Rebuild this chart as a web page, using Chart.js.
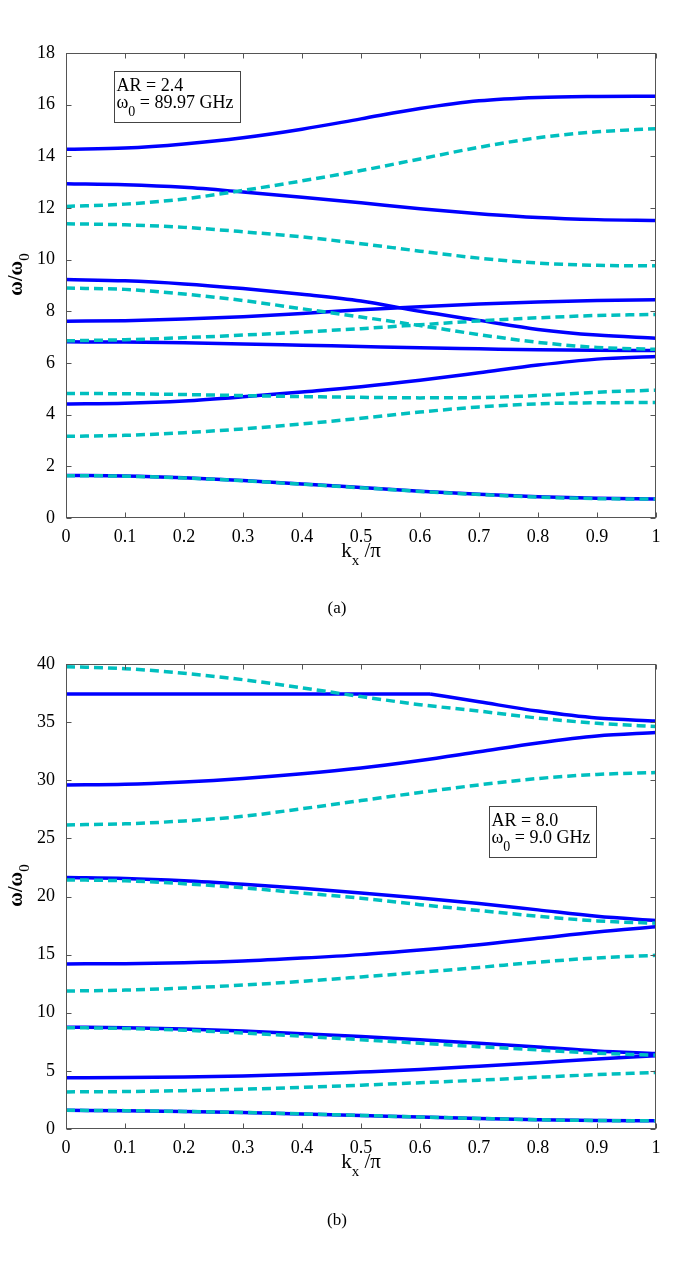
<!DOCTYPE html>
<html>
<head>
<meta charset="utf-8">
<script src="https://cdn.jsdelivr.net/npm/chart.js@4.4.0/dist/chart.umd.min.js"></script>
<style>
  body { margin: 0; background: #fff; width: 685px; height: 1266px; position: relative; overflow: hidden; }
  .fig { position: absolute; left: 0; width: 685px; height: 600px; }
  .cap { position: absolute; left: 297px; width: 80px; text-align: center; font: 17px 'Liberation Serif', serif; color: #000; }
</style>
</head>
<body>
<div class="fig" style="top:0"><canvas id="chart-a"></canvas></div>
<div class="fig" style="top:611px"><canvas id="chart-b"></canvas></div>
<div class="cap" style="top:598px">(a)</div>
<div class="cap" style="top:1210px">(b)</div>
<script>
'use strict';

// k_x / pi sample points and tick labels
var kx = [0, 0.1, 0.2, 0.3, 0.4, 0.5, 0.6, 0.7, 0.8, 0.9, 1];
var xTicks = [0, 0.1, 0.2, 0.3, 0.4, 0.5, 0.6, 0.7, 0.8, 0.9, 1];
var yTicksA = [0, 2, 4, 6, 8, 10, 12, 14, 16, 18];
var yTicksB = [0, 5, 10, 15, 20, 25, 30, 35, 40];

// (a) AR = 2.4 : solid bands
var aSolid1 = [14.27, 14.32, 14.48, 14.72, 15.05, 15.45, 15.85, 16.15, 16.28, 16.32, 16.33];
var aSolid2 = [12.94, 12.90, 12.80, 12.62, 12.42, 12.20, 11.97, 11.78, 11.63, 11.55, 11.52];
var aSolid3 = [9.23, 9.18, 9.06, 8.88, 8.66, 8.40, 8.00, 7.65, 7.30, 7.08, 6.96];
var aSolid4 = [7.62, 7.64, 7.70, 7.79, 7.92, 8.06, 8.18, 8.28, 8.36, 8.42, 8.45];
var aSolid5 = [6.82, 6.81, 6.78, 6.74, 6.69, 6.64, 6.59, 6.55, 6.51, 6.49, 6.48];
var aSolid6 = [4.41, 4.44, 4.53, 4.69, 4.88, 5.08, 5.33, 5.62, 5.92, 6.15, 6.25];
var aSolid7 = [1.65, 1.63, 1.56, 1.45, 1.32, 1.18, 1.04, 0.92, 0.82, 0.76, 0.74];
// (a) dashed bands
var aDash1 = [12.06, 12.15, 12.35, 12.68, 13.05, 13.45, 13.90, 14.35, 14.72, 14.95, 15.07];
var aDash2 = [11.39, 11.35, 11.25, 11.08, 10.88, 10.62, 10.33, 10.06, 9.87, 9.78, 9.76];
var aDash3 = [8.90, 8.85, 8.67, 8.42, 8.10, 7.78, 7.45, 7.10, 6.80, 6.60, 6.53];
var aDash4 = [6.86, 6.90, 6.98, 7.08, 7.20, 7.33, 7.48, 7.63, 7.75, 7.84, 7.88];
var aDash5 = [4.82, 4.81, 4.78, 4.74, 4.70, 4.67, 4.65, 4.66, 4.74, 4.87, 4.95];
var aDash6 = [3.16, 3.20, 3.30, 3.45, 3.64, 3.86, 4.10, 4.30, 4.42, 4.46, 4.47];
var aDash7 = [1.64, 1.62, 1.55, 1.44, 1.31, 1.17, 1.03, 0.91, 0.81, 0.75, 0.73];

// (b) AR = 8.0 : top solid band is flat then bends down at a kink,
// so it is kept as two pieces with their own k points
var kxB1flat = [0, 0.1, 0.2, 0.3, 0.4, 0.5, 0.617];
var bSolid1flat = [37.42, 37.42, 37.42, 37.42, 37.42, 37.42, 37.42];
var kxB1drop = [0.617, 0.7, 0.8, 0.9, 1];
var bSolid1drop = [37.42, 36.75, 35.95, 35.35, 35.10];
var bSolid2 = [29.60, 29.65, 29.85, 30.15, 30.55, 31.05, 31.70, 32.45, 33.20, 33.80, 34.10];
var bSolid3 = [21.63, 21.55, 21.35, 21.05, 20.70, 20.30, 19.87, 19.40, 18.85, 18.30, 17.93];
var bSolid4 = [14.20, 14.22, 14.30, 14.45, 14.70, 15.00, 15.40, 15.85, 16.40, 16.95, 17.40];
var bSolid5 = [8.76, 8.72, 8.60, 8.42, 8.20, 7.95, 7.68, 7.38, 7.06, 6.72, 6.50];
var bSolid6 = [4.40, 4.42, 4.47, 4.56, 4.70, 4.90, 5.12, 5.40, 5.70, 6.02, 6.30];
var bSolid7 = [1.61, 1.58, 1.51, 1.42, 1.30, 1.17, 1.03, 0.91, 0.80, 0.73, 0.70];
var bDash1 = [39.77, 39.60, 39.20, 38.65, 37.95, 37.20, 36.50, 35.95, 35.35, 34.90, 34.62];
var bDash2 = [26.16, 26.25, 26.50, 26.90, 27.55, 28.25, 28.95, 29.60, 30.15, 30.50, 30.66];
var bDash3 = [21.43, 21.35, 21.10, 20.75, 20.30, 19.85, 19.30, 18.80, 18.30, 17.90, 17.70];
var bDash4 = [11.87, 11.95, 12.12, 12.38, 12.70, 13.08, 13.48, 13.90, 14.35, 14.72, 14.94];
var bDash5 = [8.72, 8.65, 8.50, 8.25, 7.98, 7.68, 7.38, 7.08, 6.80, 6.52, 6.35];
var bDash6 = [3.19, 3.22, 3.30, 3.42, 3.58, 3.77, 3.98, 4.20, 4.45, 4.68, 4.86];
var bDash7 = [1.61, 1.58, 1.51, 1.42, 1.30, 1.17, 1.03, 0.91, 0.80, 0.73, 0.70];

var SERIF = "'Liberation Serif', 'DejaVu Serif', serif";

function band(xs, ys, dashed) {
  return {
    data: xs.map(function(x, i) { return { x: x, y: ys[i] }; }),
    borderColor: dashed ? '#00bfbf' : '#0000ff',
    borderWidth: 3.5,
    borderDash: dashed ? [9, 5] : [],
    borderCapStyle: 'butt',
    pointRadius: 0,
    fill: false,
    cubicInterpolationMode: 'monotone'
  };
}

// draw a run of text pieces (with subscripts) starting at x, baseline y
function drawRuns(ctx, runs, x, y, align) {
  var total = 0;
  runs.forEach(function(r) {
    ctx.font = (r.bold ? 'bold ' : '') + r.size + 'px ' + SERIF;
    r.w = ctx.measureText(r.t).width;
    total += r.w;
  });
  var cx = align === 'center' ? x - total / 2 : x;
  ctx.textAlign = 'left';
  ctx.textBaseline = 'alphabetic';
  ctx.fillStyle = '#000';
  runs.forEach(function(r) {
    ctx.font = (r.bold ? 'bold ' : '') + r.size + 'px ' + SERIF;
    ctx.fillText(r.t, cx, y + (r.dy || 0));
    cx += r.w;
  });
}

function framePlugin(note) {
  return {
    id: 'frame',
    afterDraw: function(chart) {
      var ctx = chart.ctx;
      var a = chart.chartArea;
      var xs = chart.scales.x, ys = chart.scales.y;
      var l = Math.round(a.left) + 0.5, r = Math.round(a.right) - 0.5;
      var t = Math.round(a.top) + 0.5, b = Math.round(a.bottom) - 0.5;
      ctx.save();
      ctx.strokeStyle = '#555';
      ctx.lineWidth = 1;
      ctx.strokeRect(l, t, r - l, b - t);
      ctx.beginPath();
      xs.ticks.forEach(function(tk) {
        var px = Math.round(xs.getPixelForValue(tk.value)) + 0.5;
        ctx.moveTo(px, b); ctx.lineTo(px, b - 5);
        ctx.moveTo(px, t); ctx.lineTo(px, t + 5);
      });
      ys.ticks.forEach(function(tk) {
        var py = Math.round(ys.getPixelForValue(tk.value)) + 0.5;
        ctx.moveTo(l, py); ctx.lineTo(l + 5, py);
        ctx.moveTo(r, py); ctx.lineTo(r - 5, py);
      });
      ctx.stroke();

      // axis titles
      drawRuns(ctx, [{ t: 'k', size: 21 }, { t: 'x', size: 15, dy: 8 }, { t: ' /\u03c0', size: 21 }],
        (a.left + a.right) / 2, a.bottom + 39, 'center');
      ctx.save();
      ctx.translate(22, (a.top + a.bottom) / 2 - 11);
      ctx.rotate(-Math.PI / 2);
      drawRuns(ctx, [{ t: '\u03c9/\u03c9', size: 20, bold: true }, { t: '0', size: 15, dy: 7 }], 0, 0, 'center');
      ctx.restore();

      // parameter box
      var bx = Math.round(xs.getPixelForValue(note.x)) + 0.5;
      var by = Math.round(ys.getPixelForValue(note.y)) + 0.5;
      ctx.fillStyle = '#fff';
      ctx.fillRect(bx, by, note.w, 51);
      ctx.strokeStyle = '#444';
      ctx.strokeRect(bx, by, note.w, 51);
      drawRuns(ctx, [{ t: note.line1, size: 18 }], bx + 2, by + 19);
      drawRuns(ctx, [{ t: '\u03c9', size: 18 }, { t: '0', size: 14, dy: 8 }, { t: note.line2, size: 18 }],
        bx + 2, by + 36);
      ctx.restore();
    }
  };
}

function makeChart(id, datasets, yMax, yTicks, note) {
  var tickFont = { family: SERIF, size: 18 };
  return new Chart(document.getElementById(id), {
    type: 'line',
    data: { datasets: datasets },
    options: {
      responsive: true,
      maintainAspectRatio: false,
      animation: false,
      events: [],
      layout: { padding: { top: 53, right: 29, left: 0, bottom: 0 } },
      plugins: { legend: { display: false }, tooltip: { enabled: false } },
      scales: {
        x: {
          type: 'linear', min: 0, max: 1,
          grid: { display: false }, border: { display: false },
          afterBuildTicks: function(s) { s.ticks = xTicks.map(function(v) { return { value: v }; }); },
          afterFit: function(s) { s.height = 82; },
          ticks: { font: tickFont, color: '#000', padding: 0, maxRotation: 0, autoSkip: false,
            callback: function(v) { return String(v); } }
        },
        y: {
          type: 'linear', min: 0, max: yMax,
          grid: { display: false }, border: { display: false },
          afterBuildTicks: function(s) { s.ticks = yTicks.map(function(v) { return { value: v }; }); },
          afterFit: function(s) { s.width = 66; },
          ticks: { font: tickFont, color: '#000', padding: 3, autoSkip: false,
            callback: function(v) { return String(v); } }
        }
      }
    },
    plugins: [framePlugin(note)]
  });
}

// dashed bands first so they are painted on top of the solid ones
var dataA = [aDash1, aDash2, aDash3, aDash4, aDash5, aDash6, aDash7].map(function(ys) { return band(kx, ys, true); })
  .concat([aSolid1, aSolid2, aSolid3, aSolid4, aSolid5, aSolid6, aSolid7].map(function(ys) { return band(kx, ys, false); }));

var dataB = [bDash1, bDash2, bDash3, bDash4, bDash5, bDash6, bDash7].map(function(ys) { return band(kx, ys, true); })
  .concat([band(kxB1flat, bSolid1flat, false), band(kxB1drop, bSolid1drop, false)])
  .concat([bSolid2, bSolid3, bSolid4, bSolid5, bSolid6, bSolid7].map(function(ys) { return band(kx, ys, false); }));

makeChart('chart-a', dataA, 18, yTicksA, { x: 0.081, y: 17.3, w: 126, line1: 'AR = 2.4', line2: ' = 89.97 GHz' });
makeChart('chart-b', dataB, 40, yTicksB, { x: 0.717, y: 27.8, w: 107, line1: 'AR = 8.0', line2: ' = 9.0 GHz' });
</script>
</body>
</html>
